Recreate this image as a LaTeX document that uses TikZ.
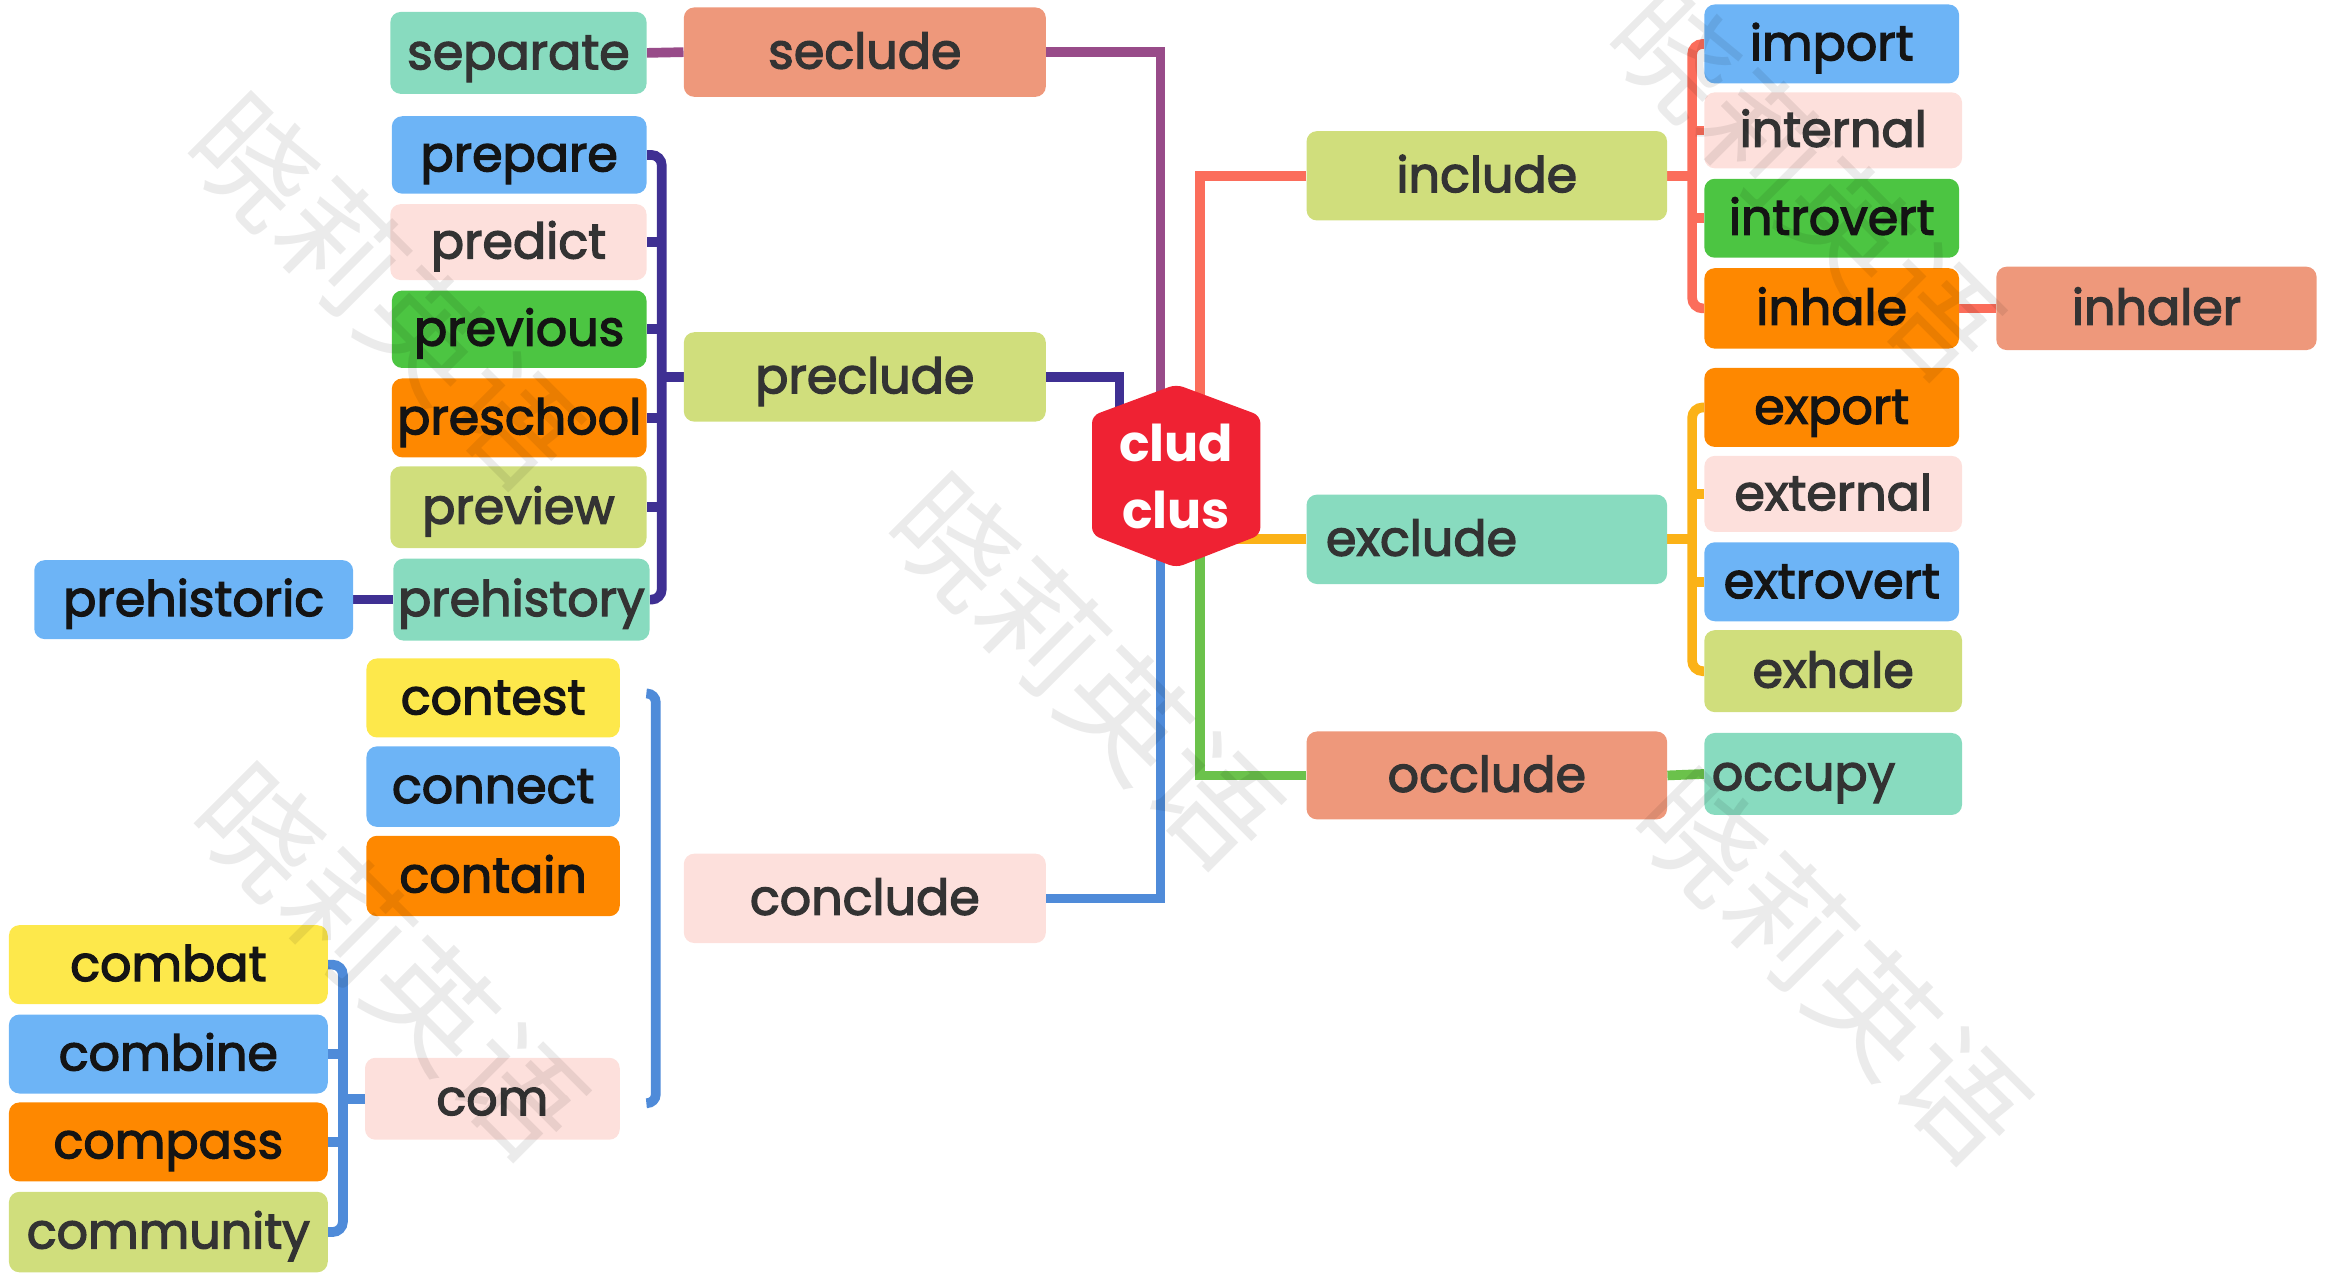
\documentclass[tikz,border=0pt]{standalone}
\usepackage{fontspec}
\setmainfont{Poppins}
\newfontfamily\wordfont{Poppins}[FakeBold=2.6]
\newfontfamily\cjk{Noto Sans CJK SC}
\usetikzlibrary{calc}
\pgfdeclarelayer{bg}
\pgfdeclarelayer{fg}
\pgfsetlayers{bg,main,fg}
\definecolor{mint}{HTML}{88DBBF}
\definecolor{salmon}{HTML}{EE987B}
\definecolor{sky}{HTML}{6DB4F6}
\definecolor{pinkish}{HTML}{FDE0DC}
\definecolor{grn}{HTML}{4CC542}
\definecolor{orng}{HTML}{FE8800}
\definecolor{olive}{HTML}{D0DE7C}
\definecolor{yel}{HTML}{FDE84B}
\definecolor{txtdark}{HTML}{333333}
\definecolor{txtblack}{HTML}{141414}
\definecolor{hexred}{HTML}{EF2233}
\definecolor{lpurple}{HTML}{984B89}
\definecolor{lindigo}{HTML}{3F3093}
\definecolor{lred}{HTML}{FB6D5B}
\definecolor{lyellow}{HTML}{FBB217}
\definecolor{lgreen}{HTML}{6BC24B}
\definecolor{lblue}{HTML}{4F8BD9}
\begin{document}
\begin{tikzpicture}[x=1pt,y=-1pt,
  box/.style={rectangle, rounded corners=7pt, inner sep=0pt, text height=22pt, text depth=0pt,
    font=\wordfont\fontsize{33}{40}\selectfont, text=txtdark},
  blk/.style={text=txtblack},
  sz/.style 2 args={minimum width=#1pt, minimum height=#2pt},
  conn/.style={line width=6.5pt},
  wm/.style={font=\cjk\fontsize{82}{90}\selectfont, text=black, opacity=0.08, rotate=-45}
]
\useasboundingbox (0,0) rectangle (1568,856);

% ---- left: seclude
\node[box, fill=mint, sz={172}{55}] (separate) at (348,35.5) {separate};
\node[box, fill=salmon, sz={243}{60}] (seclude) at (580.5,35) {seclude};
% ---- preclude group
\node[box, blk, fill=sky, sz={171}{52}] (prepare) at (348.5,104) {prepare};
\node[box, fill=pinkish, sz={172}{51}] (predict) at (348,162.5) {predict};
\node[box, blk, fill=grn, sz={171}{52}] (previous) at (348.5,221) {previous};
\node[box, blk, fill=orng, sz={171}{53}] (preschool) at (348.5,280.5) {preschool};
\node[box, fill=olive, sz={172}{55}] (preview) at (348,340.5) {preview};
\node[box, fill=mint, sz={172}{55}] (prehistory) at (350,402.5) {prehistory};
\node[box, blk, fill=sky, sz={214}{53}] (prehistoric) at (130,402.5) {prehistoric};
\node[box, fill=olive, sz={243}{60}] (preclude) at (580.5,253) {preclude};
% ---- conclude group
\node[box, blk, fill=yel, sz={170}{53}] (contest) at (331,468.5) {contest};
\node[box, blk, fill=sky, sz={170}{54}] (connect) at (331,528) {connect};
\node[box, blk, fill=orng, sz={170}{54}] (contain) at (331,588) {contain};
\node[box, fill=pinkish, sz={243}{60}] (conclude) at (580.5,603) {conclude};
\node[box, blk, fill=yel, sz={214}{53}] (combat) at (113,647.5) {combat};
\node[box, blk, fill=sky, sz={214}{53}] (combine) at (113,707.5) {combine};
\node[box, blk, fill=orng, sz={214}{53}] (compass) at (113,766.5) {compass};
\node[box, fill=olive, sz={214}{54}] (community) at (113,827) {community};
\node[box, fill=pinkish, sz={171}{55}] (com) at (330.5,737.5) {com};
% ---- right side
\node[box, fill=olive, sz={242}{60}] (include) at (998,118) {include};
\node[box, fill=mint, sz={242}{60}, text width=216pt, inner xsep=13pt, align=left] (exclude) at (998,362) {exclude};
\node[box, fill=salmon, sz={242}{59}] (occlude) at (998,520.5) {occlude};
\node[box, blk, fill=sky, sz={171}{53}] (import) at (1229.5,29.5) {import};
\node[box, fill=pinkish, sz={173}{51}] (internal) at (1230.5,87.5) {internal};
\node[box, blk, fill=grn, sz={171}{53}] (introvert) at (1229.5,146.5) {introvert};
\node[box, blk, fill=orng, sz={171}{54}] (inhale) at (1229.5,207) {inhale};
\node[box, fill=salmon, sz={215}{56}] (inhaler) at (1447.5,207) {inhaler};
\node[box, blk, fill=orng, sz={171}{53}] (export) at (1229.5,273.5) {export};
\node[box, fill=pinkish, sz={173}{51}] (external) at (1230.5,331.5) {external};
\node[box, blk, fill=sky, sz={171}{53}] (extrovert) at (1229.5,390.5) {extrovert};
\node[box, fill=olive, sz={173}{55}] (exhale) at (1230.5,450.5) {exhale};
\node[box, fill=mint, sz={173}{55}, text width=163pt, inner xsep=5pt, align=left] (occupy) at (1230.5,519.5) {occupy};

% ---- centre hexagon
\fill[hexred, rounded corners=5pt] (789.5,258) -- (846,279) -- (846,359) -- (789.5,381) -- (733,359) -- (733,279) -- cycle;
\node[font=\fontsize{34}{45}\selectfont\bfseries, text=white, align=center, inner sep=0pt,
  minimum width=113pt, minimum height=122pt] (hex) at (789.5,319.5) {clud\\clus};

% ---- connectors
\begin{pgfonlayer}{bg}
\draw[conn, lpurple] (seclude.east) -| ([xshift=-10.5pt]hex.center);
\draw[conn, lpurple] (separate.east) -- (seclude.west);
\draw[conn, lindigo] (preclude.east) -| ([xshift=-38pt]hex.center);
\draw[conn, lindigo, rounded corners=7pt] (prepare.east) -| ([xshift=8pt]prehistory.east) -- (prehistory.east);
\foreach \n in {predict,previous,preschool,preview} \draw[conn, lindigo] (\n.east) -- ++(9,0);
\draw[conn, lindigo] (preclude.west) -- ++(-18,0);
\draw[conn, lindigo] (prehistoric.east) -- (prehistory.west);

\draw[conn, lred] (include.west) -| ([xshift=16pt]hex.center);
\draw[conn, lred, rounded corners=7pt] (import.west) -| ([xshift=-8pt]inhale.west) -- (inhale.west);
\foreach \n in {internal,introvert} \draw[conn, lred] (\n.west) -- ++(-9,0);
\draw[conn, lred] (include.east) -- ++(18,0);
\draw[conn, lred] (inhale.east) -- (inhaler.west);

\draw[conn, lyellow] (exclude.west) -- (exclude.west -| hex.center);
\draw[conn, lyellow, rounded corners=7pt] (export.west) -| ([xshift=-8pt]exhale.west) -- (exhale.west);
\foreach \n in {external,extrovert} \draw[conn, lyellow] (\n.west) -- ++(-9,0);
\draw[conn, lyellow] (exclude.east) -- ++(18,0);

\draw[conn, lgreen] (occlude.west) -| ([xshift=16pt]hex.center);
\draw[conn, lgreen] (occlude.east) -- (occupy.west);

\draw[conn, lblue] (conclude.east) -| ([xshift=-10.5pt]hex.center);
\draw[conn, lblue, rounded corners=6pt] ([xshift=19pt,yshift=3pt]contest.east) -| ([xshift=24pt,yshift=-3pt]com.east) -- ([xshift=19pt,yshift=-3pt]com.east);
\draw[conn, lblue, rounded corners=7pt] (combat.east) -| ([xshift=10pt]community.east) -- (community.east);
\foreach \n in {combine,compass} \draw[conn, lblue] (\n.east) -- ++(10,0);
\draw[conn, lblue] (com.west) -- ++(-16,0);
\end{pgfonlayer}

% ---- watermark
\begin{pgfonlayer}{fg}
\node[wm] (wm1) at (258,195) {晓莉英语};
\node[wm] (wm2) at (728,450) {晓莉英语};
\node[wm] (wm3) at (1212,122) {晓莉英语};
\node[wm] (wm4) at (262,645) {晓莉英语};
\node[wm] (wm5) at (1230,648) {晓莉英语};
\end{pgfonlayer}
\end{tikzpicture}
\end{document}
